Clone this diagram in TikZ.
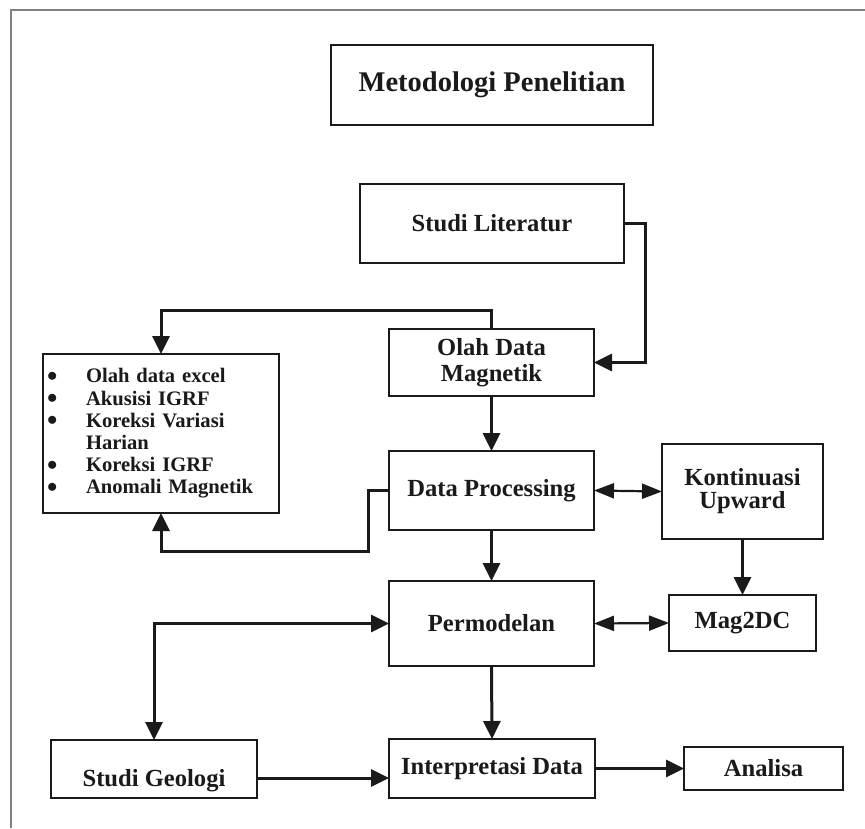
\documentclass[tikz,border=0pt]{standalone}
\usepackage{fontspec}
\setmainfont{Liberation Serif}
\usetikzlibrary{arrows.meta,calc}
\definecolor{ink}{HTML}{1A1A1A}
\newcommand\listitemx[1]{\makebox[43pt][l]{\hspace{4pt}\raisebox{1.5pt}[0pt][0pt]{$\bullet$}}#1}
\begin{document}
\begin{tikzpicture}[x=1pt,y=1pt,
  bx/.style={draw=ink, line width=1.8pt, inner sep=0pt, outer sep=0pt, text=ink, align=center, font=\bfseries\fontsize{24.6}{26}\selectfont},
  conn/.style={draw=ink, line width=3pt, -{Triangle[length=18pt,width=17pt]}},
  bothconn/.style={draw=ink, line width=3pt, {Triangle[length=18pt,width=17pt]}-{Triangle[length=18pt,width=17pt]}},
  dbl/.style={draw=ink, line width=2.2pt, {Triangle[length=20pt,width=15pt]}-{Triangle[length=20pt,width=15pt]}},
  framel/.style={draw=gray, line width=1.5pt}]
\useasboundingbox (0,0) rectangle (865,-828);
\fill[white] (0,0) rectangle (865,-828);
\draw[framel] (11,-828) -- (11,-10) -- (865,-10);

\node[bx, minimum width=322pt, minimum height=80pt, font=\bfseries\fontsize{28.5}{30}\selectfont] (meto) at (492,-85) {Metodologi Penelitian};
\node[bx, minimum width=264pt, minimum height=79pt] (sl) at (492,-223.5) {Studi Literatur};
\node[bx, minimum width=205pt, minimum height=67pt] (olah) at (491.5,-362.5) {Olah Data\\Magnetik};
\node[bx, minimum width=236pt, minimum height=159pt, text width=236pt, align=left, font=\bfseries\fontsize{20.6}{22.2}\selectfont] (list) at (161,-433.5)
  {\listitemx{Olah data excel}\\\listitemx{Akusisi IGRF}\\\listitemx{Koreksi Variasi}\\\makebox[43pt][l]{}Harian\\\listitemx{Koreksi IGRF}\\\listitemx{Anomali Magnetik}};
\node[bx, minimum width=205pt, minimum height=79pt] (dp) at (491.5,-490.5) {Data Processing};
\node[bx, minimum width=161pt, minimum height=95pt, font=\bfseries\fontsize{24.6}{23}\selectfont] (kont) at (742.5,-491.5) {Kontinuasi\\Upward};
\node[bx, minimum width=205pt, minimum height=85pt] (perm) at (491.5,-623.5) {Permodelan};
\node[bx, minimum width=147pt, minimum height=56pt] (mag) at (742.5,-623) {Mag2DC};
\node[bx, minimum width=206pt, minimum height=58pt, text height=34pt, text depth=0pt] (sg) at (154,-769) {Studi Geologi};
\node[bx, minimum width=206pt, minimum height=59pt] (ip) at (492,-768.5) {Interpretasi Data};
\node[bx, minimum width=159pt, minimum height=43pt] (an) at (763.5,-768.5) {Analisa};

\draw[conn] (sl.east) -- ++(21,0) |- (olah.east);
\draw[conn] (olah.north) -- ++(0,19) -| (list.north);
\draw[conn] (olah.south) -- (dp.north);
\coordinate (dpl) at ([xshift=-21pt]dp.west);
\draw[conn] (dp.west) -- (dpl) |- ([yshift=-38pt]list.south) -- (list.south);
\draw[dbl] (dp.east) -- (kont.west);
\draw[conn] (kont.south) -- (mag.north);
\draw[conn] (dp.south) -- (perm.north);
\draw[dbl] (perm.east) -- (mag.west);
\draw[bothconn] (perm.west) -| (sg.north);
\draw[conn] (perm.south) -- (ip.north);
\coordinate (sgout) at ([yshift=-9pt]sg.east);
\draw[conn] (sgout) -- (sgout -| ip.west);
\draw[conn] (ip.east) -- (an.west);
\end{tikzpicture}
\end{document}
